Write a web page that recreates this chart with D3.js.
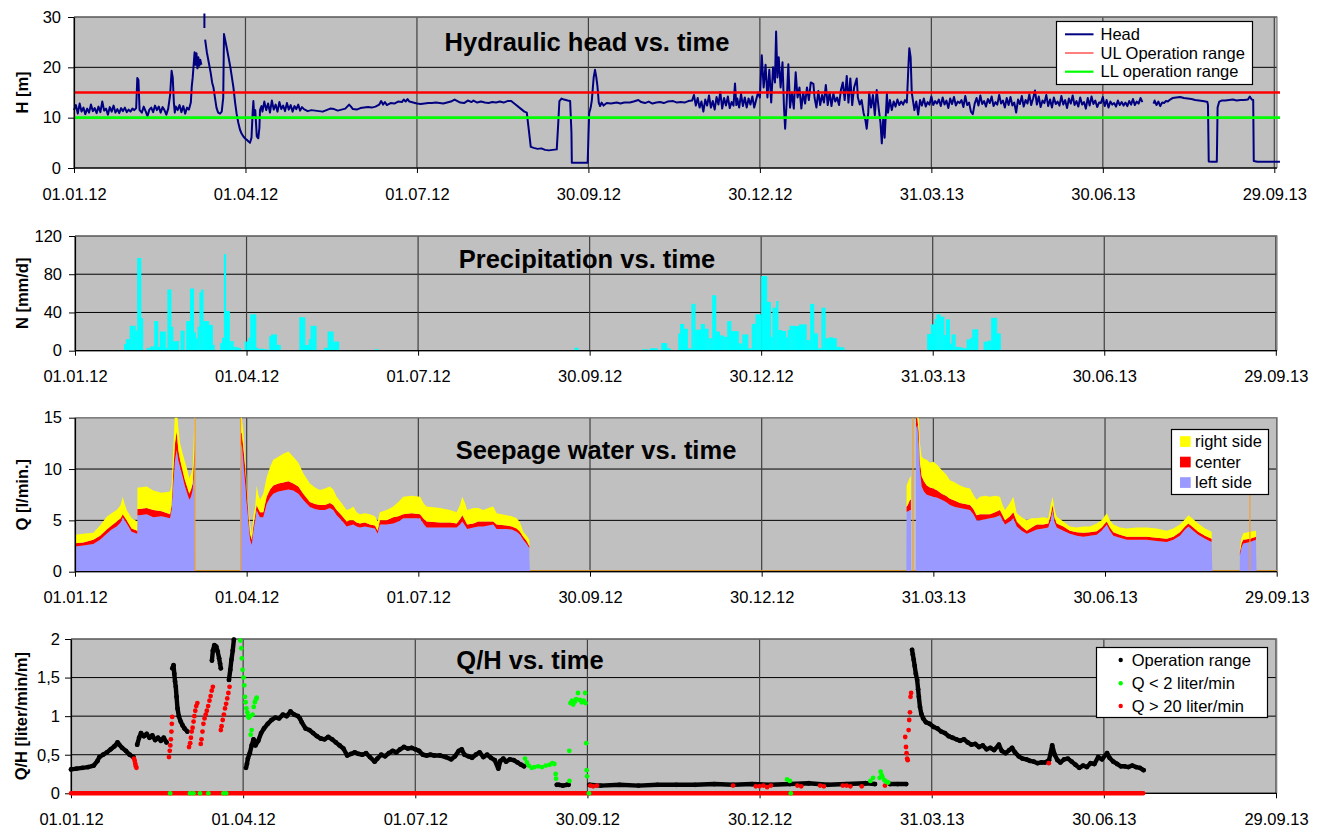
<!DOCTYPE html>
<html>
<head>
<meta charset="utf-8">
<script src="https://cdn.jsdelivr.net/npm/d3@7"></script>
<style>
  body { margin: 0; background: #fff; }
  svg { display: block; }
</style>
</head>
<body>
<svg id="chart" width="1320" height="830"></svg>
<script>
// day offsets count from 01.01.12
const tickDays = [0, 91, 182, 273, 364, 455, 546, 637];

// hydraulic head H [m], [day, value], null = gap
const headPts = [
  [0,11.5],[1,12.5],[2,10.8],[3,12.8],[4,11.2],[5,12],[6,10.7],[7,11.8],[8,11],[9,12.6],[10,11.3],[11,11.9],[12,10.9],
  [13,12.2],[14,11.1],[15,13.2],[16,11.4],[17,11.8],[18,10.6],[19,12.1],[20,11.2],[21,12.4],[22,11],[23,11.7],[24,10.9],
  [25,11.9],[26,11.3],[27,12],[28,11.1],[29,11.6],[30,11.2],[31,11.8],[32,11.5],[33,11.9],[33.6,17.9],[34.2,17.5],[34.8,11.5],
  [36,11],[37,12.2],[38,11.3],[39,10.3],[40,11.6],[41,12],[42,11.1],[43,12.4],[44,11.5],[45,12.2],[46,11],[47,12.1],
  [48,11.5],[49,10.6],[50,11.8],[51,14.5],[51.8,19.3],[52.4,18],[53,13],[53.5,11],[54,12.2],[55,11.5],[56,12.5],[57,11.1],
  [58,12.3],[59,10.8],[60,12],[61,11.6],[62,13],[62.5,16.2],[63,18],[63.5,20.5],[64,23],[64.5,20.5],[65,22.8],[65.5,19.8],
  [66,22],[66.5,20.3],[67,21.5],[67.6,20.5],null,[69.2,27.8],[69.2,30.7],null,
  [69.6,25.5],[70.5,23],[71.5,21],[72.5,19],[73.3,17],[74,16],[75,13.5],[75.6,12],[76.5,11],[77.5,10.8],[78.4,11.2],
  [79.2,14],[79.6,26.6],[80.2,25.5],[81,24],[82,22],[83,20],[84,17.5],[84.6,16],[85.5,13],[86.3,10.8],[87.2,9],[88.1,7.6],
  [89,6.8],[90,6.2],[91,5.8],[91.7,5.6],[92.5,5.3],[93.4,5],[94.2,6],[94.8,11],[95.2,13.3],[95.6,10.5],[96.2,11.5],
  [97,6.3],[97.8,5.9],[98.4,8],[98.7,11.5],[99.5,12.3],[100,11.2],[101,13.2],[102,11.5],[103,12.8],[104,11],[105,13.4],
  [106,11.6],[107,12.6],[108,11.2],[109,13.1],[110,11.7],[111,12.4],[112,11.3],[113,12.9],[114,11.6],[115,12.5],[116,11.2],
  [117,12.3],[118,11.7],[119,12.6],[120,11.4],[121,12.1],[122,11.7],[124,11.3],[126,11.5],[128,11.4],[130,11.3],[132,11.2],
  [134,11.5],[136,11.8],[138,11.7],[140,11.4],[142,11.6],[144,11.8],[146,12.6],[147,12.2],[148,11.7],[150,11.6],[152,11.9],
  [154,12],[156,12.1],[158,12],[160,12.2],[162,12.6],[163,13.3],[164,12.6],[165,13.1],[166,12.5],[168,12.9],[170,12.8],
  [172,13.2],[174,13.1],[175,13.6],[176,13.2],[177,13.7],[178,13.2],[180,13],[182,12.8],[184,12.7],[186,12.8],[188,12.9],
  [190,12.9],[192,13],[194,12.9],[196,12.8],[198,13],[200,13.2],[202,13.6],[203,13.4],[205,13],[207,12.9],[209,13.4],
  [211,13.1],[212,13.4],[214,13],[216,13.2],[218,13],[220,12.9],[222,13.1],[224,13],[226,13.2],[228,13],[230,13.3],
  [232,13.3],[234,12.7],[236.7,11.9],[239,11.2],[240.3,11],[241.2,8.1],[242.4,4.2],[244,4],[246,3.8],[248,3.9],[250,3.6],
  [252,3.5],[254,3.6],[256.2,3.7],[257,9],[257.6,13.3],[258.8,13.8],[260,13.6],[262,13.4],[263.3,13.3],[264,7],[264.2,1.05],
  [268,1.05],[272.6,1.05],[273,6],[273.4,10.9],[274.2,12],[274.8,13.4],[275.8,18],[276.5,19.5],[277.2,18],[277.8,16.2],
  [278.5,13],[279.2,12.3],[280,13],[281,12.4],[282.7,12.9],[285,12.8],[288,13],[290,12.8],[292,13],[295,13],[297,13.2],
  [299.5,13.5],[301,13.1],[303,12.9],[305,13.2],[307,12.8],[309,13],[311,13.1],[313,12.9],[315,13.2],[318,13.3],[320,13],
  [322,13.1],[324,13],[326,13.3],[328,13.4],[329,14.5],[330,12.4],[331,13.9],[332,12],[333,13.2],[334,11.2],[335,13.6],
  [336,12.4],[337,14.4],[338,12],[339,13.3],[340,11.6],[341,14.1],[342,12.6],[343,15.1],[344,11.8],[345,13.9],[346,12.4],
  [347,14.2],[348,11.9],[349,13.1],[350,12.4],[350.8,16.8],[351.5,12.5],[352,13.8],[353,12],[354,14.7],[355,12.3],[356,14],
  [357,12],[358,13.8],[359,12.6],[360,14.2],[361,12],[362,13.5],[363,15],[364,14],[365,22.4],[366,16],[367,20.5],[368,14],
  [369,19.5],[370,13],[371,20],[372,17],[372.6,27.1],[373.3,18],[374,22],[375,16],[376,21],[376.8,12],[377.4,7.8],
  [378.2,13],[379.1,20.6],[380,12],[381,15],[382,11.8],[383,19],[384,14],[385,16],[386,11.8],[387,15],[388,12.8],[389,16],
  [390,13.5],[391,17],[392.4,16.7],[393,14],[394,12],[395,15.3],[396,12.5],[397,14.5],[398,13],[399,16.5],[400,12.5],
  [401,15],[402,12.3],[403,14.8],[404,13.2],[405,14],[406,12.5],[407,15.5],[408,17],[409,13.5],[410.1,18.3],[411,13],
  [412,17.8],[413,12.5],[414,16],[415.4,17.8],[416,14],[417,12.6],[418,13.5],[419,11],[420,9.5],[420.7,7.8],[421.5,11],
  [422,15],[423,12],[424,14.5],[425,10.5],[426,15.5],[427,12],[428,9],[428.7,4.9],[429.5,10],[430.2,6],[431.4,14.7],
  [432,11],[433,13.5],[434,11.5],[435,13.2],[436,12.2],[437,13.6],[438,12.5],[439,13.2],[440,12.6],[441,13.5],[442,13],
  [442.8,20],[443.3,23.8],[444,22],[444.6,15],[445,14],[446,11.5],[447,13.2],[448,10.6],[449,13.5],[450,12.4],[451,13.8],
  [452,12.2],[453,13.1],[454,12.6],[455,14.2],[456,12.5],[457,13.3],[458,12.8],[459,13.6],[460,12.3],[461,14],[462,12.6],
  [463,13.4],[464,11.9],[465,13.8],[466,12.7],[467,14.1],[468,12.4],[469,13.2],[470,12.9],[471,13.5],[472,12.1],[473,14.3],
  [474,12.5],[475,13],[476,11.2],[477,10.7],[478,12.8],[479,13.9],[480,12.4],[481,14.4],[482,12.7],[483,13.3],[484,12.2],
  [485,13.7],[486,12.9],[487,14.2],[488,12.3],[489,13.1],[490,12.6],[491,14.5],[492,12.8],[493,13.4],[494,12],[495,13.9],
  [496,12.5],[497,14.1],[498,12.4],[499,13],[500,11],[501,13.6],[502,12.7],[503,14.3],[504,12.2],[505,13.5],[506,12.8],
  [507,14.6],[508,12.5],[509,13.8],[510,15.4],[511,12.6],[512,14.2],[513,12.1],[514,13.4],[515,12.9],[516,14.5],[517,12.3],
  [518,13.6],[519,12],[520,14],[521,12.7],[522,13.2],[523,12.4],[524,14.3],[525,12.6],[526,13.5],[527,11.9],[528,13.8],
  [529,12.8],[530,14.4],[531,12.5],[532,13.3],[533,12.2],[534,14],[535,12.6],[536,13.1],[537,11.8],[538,13.9],[539,12.4],
  [540,14.2],[541,12.7],[542,13.4],[543,12.1],[544,13],[545,12.9],[546,14.1],[547,12.3],[548,13.5],[549,12],[550,13.2],
  [551,12.6],[552,12.9],[553,12.2],[554,13.4],[555,12.5],[556,13.1],[557,12.4],[558,13],[559,12.3],[560,13.3],[561,12.6],
  [562,13.7],[563,12.5],[564,13.2],[565,12.8],[566,13.9],[567,13.1],null,
  [572.9,12.8],[573.5,13.4],[574.5,12.5],[575.5,13.2],[576.5,12.3],[577.5,13],[578.5,12.9],[579.5,13.3],[580.5,13.2],
  [581.7,13.6],[583,13.9],[585,14],[587,14.1],[589,13.9],[591,13.8],[593,13.7],[595,13.5],[597,13.4],[599,13.3],
  [600.5,13.2],[601.5,13.1],[601.8,12.5],[602.2,1.3],[604,1.25],[606.5,1.25],[606.9,12],[607.8,13.2],[609,13.4],[611,13.4],
  [613,13.5],[615,13.6],[617,13.4],[619,13.5],[621,13.5],[623,13.6],[624,14.2],[625,13.6],[625.8,13.5],[626.1,1.4],
  [628,1.25],[632,1.25],[636,1.25],[640,1.25]
];
const headUL = 15;
const headLL = 10;

// precipitation N [mm/d], [day, value]
const precip = [
  [26,7],[27,12],[28,12],[29,26],[30,26],[31,26],[32,21],[33,97],[34,97],[35,34],
  [38,3],[39,3],[40,4.5],[41,4.5],[42,31],[43,31],[44,4],[45,20],[46,20],[47,20],[48,3],[49,64],[50,64],[51,25],
  [52,9.5],[53,10],[54,10],[56,21],[57,21],[59,31],[60,31],[61,65],[62,65],[63,19],[64,13],[65,25],[66,61],[67,64],
  [68,31],[69,31],[70,31],[71,27],[72,27],[73,6],[77,8],[78,13.6],[79,101],[80,41.5],[81,41.5],[82,10],[83,10],
  [84,4],[85,4],[86,3],[87,3],[90,9.5],[91,9.5],[92,13.6],[93,38],[94,38],[95,38],[96,3],[97,2],[98,2],[99,2],
  [100,1.5],[101,1.5],[103,15],[104,17],[105,17],[106,17],[107,6],[108,6],[119,35],[120,35],[121,35],[122,6],[123,6],
  [124,12],[125,26],[126,26],[127,26],[132,3],[133,3],[134,20],[135,20],[136,20],[137,9.5],[138,9.5],[139,9.5],
  [159,1.5],[160,1.5],[265,3],[266,3],[301,1.5],[302,1.5],[303,1.5],[305,2.5],[306,2.5],[307,2.5],[308,2.5],
  [311,8],[312,8],[313,8],[314,2.4],[315,2.4],[320,18],[321,28],[322,28],[323,23],[324,23],[325,2.4],[326,2.4],
  [327,49],[328,49],[329,22],[330,22],[331,22],[332,28],[333,28],[334,23],[335,23],[336,13],[337,13],[338,58],[339,58],
  [340,20],[341,20],[342,16],[343,16],[344,14.6],[345,14.6],[346,31],[347,31],[348,20.5],[349,20.5],[350,20.5],[351,20.5],
  [352,7.6],[353,7.6],[354,17],[355,17],[356,17],[357,2.4],[358,2.4],[359,28],[360,28],[361,38],[362,38],[363,38],
  [364,78],[365,78],[366,78],[367,51],[368,51],[369,14.6],[370,45],[371,45],[372,52],[373,21.6],[374,21.6],[375,20.5],
  [376,20.5],[377,14],[378,21.6],[379,26],[380,26],[381,26],[382,25.7],[383,25.7],[384,27.5],[385,27.5],[386,27.5],
  [387,27.5],[388,11],[389,11],[390,49],[391,49],[392,18],[393,18],[394,2.4],[395,2.4],[396,45],[397,45],[398,13],
  [399,13],[400,14],[401,14],[402,13],[403,13],[404,4],[405,4],[406,3.5],[407,3.5],
  [452,17.4],[453,17.4],[454,27.5],[455,27.5],[456,33],[457,38],[458,38],[459,35.5],[460,35.5],[461,16.3],[462,32.7],
  [463,32.7],[464,7.6],[465,17],[466,17],[467,4],[468,4],[469,3.5],[470,3.5],[471,2.4],[472,2.4],[473,11.8],[474,11.8],
  [475,13.5],[476,22.3],[477,22.3],[478,22.3],[482,9.4],[483,9.4],[484,10.4],[485,10.4],[486,34.4],[487,34.4],[488,34.4],
  [489,18],[490,18]
];

// seepage water Q [l/min.]: days, then left side, center and right side layers
const seepDays = [
  0,4.4,9.7,13.3,16.8,19.4,22.1,24.2,25.3,26,27.4,30,33,33.1,34.1,38,41.5,45.9,50.4,51.2,52.1,53,53.9,54.8,55.7,57.1,58.3,
  59.7,60.6,61.5,62.4,63.3,63.5,63.6,
  87.8,87.9,88.4,89.3,90.2,91.4,92.1,92.8,93.7,94.6,95.5,96.3,97.2,98.1,99.8,101.6,103.4,105.1,107.8,110.4,113.1,115.7,
  118.4,121,124.5,127.2,129.8,132.5,135.1,136.9,138.7,141.3,144,145.7,147.5,149.3,151,153.7,156.3,159,160.4,161.6,165.2,
  168.7,171.4,174,178.4,182.9,185,186.4,193.5,198.8,202.3,204.1,205.3,206.7,207.9,211.2,213.8,216.4,219.1,221.7,223.5,
  226.2,228.8,231.5,234.1,235.9,237.6,239.4,240.8,241.1,
  440.7,440.8,441.7,442.6,443.1,443.2,
  445.7,445.8,446.5,447.2,447.9,448.8,450,451.5,453.2,455,457.1,459.4,461.7,463.8,466.5,469.1,471.8,474.4,476.2,477.9,
  479.7,482.4,485,487.7,490.3,491.7,493,495.6,497.4,499.2,501.8,504.5,507.1,509.8,513.3,515.9,517.2,518.2,519.3,520.4,
  523.9,527.4,531,534.5,538,541.6,544.2,546.9,548.6,550.4,553.9,557.5,562.8,568.1,573.4,578.7,582.2,585.7,588.4,590.2,
  592.8,595.4,599,602.5,602.9,
  617.4,617.5,618.4,619.3,622.9,626,626.3
];
const seepLeft = [
  2.45,2.55,2.7,3.1,3.7,4.1,4.4,4.8,5.3,5.1,4.7,3.9,3.7,5.5,5.5,5.6,5.3,5.4,5.2,6,8.5,10.8,11.85,10.8,10.2,9.2,8.3,
  7.5,7,7.3,7.95,10.2,11,0,
  0,12,12.5,10.5,8.6,6,4.5,3.1,2.6,4,5,6,5.6,5.3,5.3,6.6,7.2,7.6,7.8,7.9,8,7.9,
  7.6,6.98,6.3,6.1,6,6,6.2,6,5.5,5,4.4,4.5,4.6,4.4,4.3,4.4,4.3,4.2,3.7,4.6,4.6,
  4.7,4.9,5.2,5.2,5.2,4.6,4.3,4.3,4.3,4.3,4.6,4.9,4.5,4.15,4.3,4.4,4.4,4.5,4.6,4.15,
  4.15,4.15,4.1,3.9,3.6,3.1,2.7,2.3,0,
  0,5.85,5.9,6,6,0,
  0,14,14.3,12.5,9.8,8.3,7.8,7.5,7.4,7.3,7.2,7,6.8,6.5,6.3,6.2,6.1,6,5.6,5,
  5,5.1,5.2,5.3,5.5,5,4.6,4.9,5.2,4.4,4,3.7,3.9,4.1,4.2,4.3,5,6,4.8,4.3,
  4,3.7,3.5,3.4,3.5,3.6,4,4.6,4,3.5,3.3,3.1,3.1,3.1,3,2.9,3.1,3.5,4.1,4.4,
  4,3.6,3.2,2.9,0,
  0,1.6,2.4,2.75,2.9,3.1,0
];
const seepCenter = [
  0.33,0.3,0.4,0.4,0.4,0.4,0.5,0.4,0.3,0.3,0.3,0.3,0.3,0.6,0.6,0.6,0.7,0.5,0.4,0.5,1.3,1.7,1.8,1,0.7,0.6,0.6,
  0.6,0.6,0.7,0.65,1.6,2,0,
  0,1.5,1,1.5,1.6,1,0.7,0.6,0.5,0.5,0.5,0.5,0.5,0.5,0.5,0.7,0.8,0.8,0.8,0.8,0.8,0.7,
  0.7,0.62,0.5,0.5,0.5,0.5,0.5,0.5,0.5,0.5,0.5,0.5,0.4,0.4,0.4,0.4,0.3,0.3,0.3,0.4,0.4,
  0.6,0.5,0.4,0.5,0.4,0.5,0.6,0.5,0.5,0.4,0.5,0.6,0.5,0.45,0.4,0.5,0.5,0.4,0.3,0.45,
  0.4,0.35,0.3,0.3,0.3,0.3,0.3,0.2,0,
  0,0.45,0.7,1,1,0,
  0,1,0.7,1.2,0.8,1,1,0.9,0.8,0.8,0.7,0.6,0.6,0.6,0.6,0.5,0.5,0.5,0.5,0.5,
  0.6,0.5,0.4,0.5,0.5,0.5,0.4,0.5,0.6,0.5,0.4,0.3,0.4,0.5,0.4,0.4,0.5,0.5,0.4,0.4,
  0.4,0.3,0.35,0.4,0.35,0.35,0.3,0.3,0.3,0.35,0.3,0.3,0.3,0.3,0.3,0.3,0.3,0.35,0.3,0.3,
  0.3,0.3,0.3,0.3,0,
  0,0.35,0.4,0.35,0.3,0.3,0
];
const seepRight = [
  0.82,0.85,0.7,1,1.25,1.2,1.1,1.3,1.7,1.4,1,1,0.9,2.1,2.1,2.1,1.9,1.8,2.2,1.9,2.2,3,2.35,2.2,1.6,1.7,1.8,
  1.7,1.5,1.5,1.6,3,3,0,
  0,2.5,1.6,1.5,0.7,0.6,0.6,1,0.6,1,0.8,1.9,1.4,1.2,1.8,1.9,2.2,2.5,2.6,2.8,2.9,2.6,
  2.3,2,1.8,1.6,1.45,1.6,1.6,1.5,1.3,1.2,1.1,1.1,1.35,1,0.9,0.9,1,0.9,0.9,0.8,1,
  1.05,1.4,1.7,1.7,1.7,1.5,1.45,1.4,1.2,1.1,1.4,1.8,1.7,1.4,1.5,1.3,1.1,1.3,1.45,1.1,
  1.05,1,1,1,0.9,0.5,0.5,0.6,0,
  0,2.1,2.2,2.2,2.3,0,
  0,1,1,1.4,1.9,1.9,2.2,2.5,2.4,2.6,2.5,2.3,2.1,1.8,1.8,1.7,1.6,1.6,1.4,1.5,
  1.7,1.8,1.7,1.6,1.3,1,1,1.3,1.5,0.8,0.9,1,0.9,0.6,0.7,0.5,1,0.8,0.8,0.65,
  0.5,0.4,0.45,0.6,0.55,0.75,0.7,0.8,0.7,0.75,0.7,0.8,0.9,0.9,0.9,0.8,0.8,0.75,0.7,0.8,
  0.8,0.8,0.7,0.7,0,
  0,0.5,0.5,0.65,0.7,0.6,0
];
// thin orange marks seen in the seepage panel, [day, Q]
const seepSpikes = [[63.6,15],[87.8,15],[444.2,15],[622.8,13.8]];

// Q/H [liter/min/m], [day, value], null = gap
const qhOperation = [
  [0,0.31],[3,0.32],[6,0.33],[9,0.34],[12,0.36],[14,0.42],[15,0.47],[17,0.5],[19,0.53],[21,0.57],[23,0.61],[24.6,0.66],
  [25.5,0.63],[27,0.59],[29,0.55],[31,0.5],[33,0.47],null,
  [35,0.63],[36,0.72],[37,0.78],[38.5,0.74],[40,0.77],[41.5,0.72],[43,0.75],[44.5,0.69],[46,0.72],[47.5,0.68],[49,0.72],
  [50.5,0.66],null,
  [53.6,1.62],[54.2,1.66],[54.6,1.55],[55,1.45],[55.4,1.38],[55.8,1.25],[56.3,1.1],[57,1],[58,0.93],[59,0.88],[60,0.84],
  [61.5,0.8],null,
  [74.5,1.72],[75,1.85],[75.8,1.92],[76.8,1.9],[77.5,1.84],[78.3,1.75],[78.8,1.68],[79.2,1.62],null,
  [83.5,1.47],[84.2,1.6],[84.8,1.73],[85.5,1.85],[86.1,1.99],null,
  [92.5,0.33],[93,0.38],[93.5,0.45],[94.5,0.52],[95.5,0.62],[96.5,0.7],[97.5,0.62],[99,0.68],[100.5,0.78],[102,0.84],
  [104,0.9],[106,0.95],[108,0.98],[110,0.97],[112,1.02],[114,1],[116,1.06],[118,1.02],[120,1],[121,0.97],[122,0.92],
  [124,0.84],[126,0.82],[128,0.78],[130,0.74],[132,0.71],[134,0.7],[136,0.73],[138,0.7],[140,0.66],[142,0.62],[144,0.58],
  [146,0.49],[148,0.51],[150,0.53],[152,0.51],[154,0.5],[156,0.52],[158,0.47],[160.5,0.41],[162,0.45],[164,0.5],
  [166,0.48],[168,0.52],[170,0.55],[172,0.53],[174,0.57],[176,0.6],[178,0.58],[180,0.59],[182,0.57],[184,0.55],[186,0.5],
  [188,0.49],[190,0.5],[192,0.49],[195,0.49],[198,0.47],[201,0.44],[203,0.48],[205,0.55],[206.5,0.57],[208,0.5],
  [210,0.48],[212,0.46],[214,0.5],[216,0.53],[218,0.47],[220,0.5],[222,0.46],[224,0.43],[225.9,0.32],[227,0.42],
  [228.5,0.45],[230,0.41],[232,0.44],[234,0.43],[236,0.4],[238,0.37],[239.5,0.35],null,
  [256.8,0.11],[258,0.11],[260,0.1],[262,0.11],[263,0.11],null,
  [274,0.11],[280,0.1],[290,0.11],[300,0.1],[310,0.11],[320,0.11],[330,0.11],[340,0.12],[350,0.11],[360,0.12],
  [370,0.11],[380,0.12],[390,0.13],[400,0.11],[410,0.12],[420,0.13],[425,0.12],null,
  [433,0.12],[437,0.12],[441.5,0.12],null,
  [444.6,1.86],[445,1.8],[445.5,1.73],[446,1.65],[446.6,1.55],[447.3,1.47],[447.8,1.35],[448.2,1.25],[448.8,1.12],
  [449.5,1.03],[450.5,0.97],[452,0.92],[454,0.9],[456,0.86],[458,0.84],[460,0.8],[462,0.78],[464,0.74],[466,0.72],
  [468,0.7],[470,0.68],[472,0.7],[474,0.66],[476,0.63],[478,0.64],[480,0.6],[482,0.62],[484,0.57],[486,0.59],[488,0.56],
  [490.5,0.63],[492,0.55],[494,0.52],[496,0.56],[497.5,0.59],[499,0.53],[501,0.48],[503,0.45],[505,0.44],[507,0.42],
  [509,0.41],[511,0.39],[513,0.4],[515,0.4],[517,0.43],[518.7,0.62],[520,0.5],[521.5,0.43],[523,0.4],[525,0.44],
  [527,0.45],[529,0.41],[531,0.37],[533,0.33],[535,0.36],[537,0.34],[539,0.39],[541,0.38],[543,0.47],[545,0.44],
  [547.7,0.52],[549,0.46],[551,0.41],[553,0.38],[555,0.35],[557,0.35],[559,0.34],[561,0.36],[563,0.34],[565,0.33],[567,0.3]
];
const qhLow = [
  [52.4,0],[62.9,0],[64.7,0],[68.2,0],[72.6,0],[80.6,0],[82,0],
  [89.5,1.98],[90,1.88],[90.3,1.75],[90.7,1.6],[91.2,1.5],[91.6,1.4],[92,1.25],[92.3,1.18],[92.7,1.1],[93.2,1.05],
  [93.6,1],[94,0.98],[94.5,1],[95,0.76],[95.5,0.82],[96,1.02],[96.6,1.12],[97.2,1.18],[97.8,1.22],[98.2,1.24],
  [240,0.45],[241,0.4],[242,0.36],[243.5,0.33],[245,0.34],[247,0.35],[249,0.34],[251,0.36],[253,0.37],[254.5,0.39],
  [255.5,0.38],[256.2,0.25],[256.4,0.19],[263.4,0.55],[263.5,0.16],[264,1.17],[264.8,1.2],[265.5,1.15],[266.5,1.19],
  [267,1.22],[268,1.3],[269,1.21],[270,1.18],[271,1.2],[271.8,1.3],[272,1.17],[272.4,0.65],[272.6,0.3],[272.8,0.22],
  [273.8,0],[378.5,0.18],[380,0.16],[380.5,0],[422.6,0.16],[424,0.2],
  [427.5,0.2],[428,0.28],[428.5,0.24],[429,0.21],[430,0.17],[431,0.15],[432,0.14]
];
const qhHigh = [
  [33.3,0.45],[33.7,0.42],[34,0.38],[34.3,0.35],[34.6,0.33],
  [51.8,0.47],[52.2,0.55],[52.5,0.62],[52.8,0.7],[53.1,0.8],[53.3,0.9],[53.5,0.99],
  [62.4,0.6],[63,0.65],[63.4,0.72],[63.8,0.8],[64.3,0.85],[64.8,0.93],[65.2,1],[65.7,1.07],[66.2,1.13],[66.8,1.17],
  [68.6,0.64],[69,0.7],[69.5,0.8],[70,0.9],[70.6,0.97],[71.2,1.02],[71.8,1.07],[72.5,1.13],[73.2,1.2],[73.8,1.26],
  [74.4,1.33],[75,1.38],
  [79.2,0.82],[79.6,0.87],[80.2,0.95],[80.8,1.02],[81.4,1.1],[82,1.16],[82.6,1.23],[83.2,1.3],[83.8,1.38],
  [274.5,0.1],[276,0.09],[278,0.1],
  [350,0.1],[362,0.09],[364,0.09],[366,0.1],[368,0.08],[370,0.1],[384,0.1],[386,0.09],[396,0.1],[398,0.09],
  [408,0.1],[410,0.1],[412,0.09],[418,0.09],[430.3,0.1],
  [441,0.73],[441.4,0.6],[441.7,0.52],[442,0.45],[442.3,0.43],[442.8,0.82],[443.1,0.95],[443.5,1.05],[443.8,1.25],[444.1,1.3],
  [516.9,0.39]
];
// Q > 20 points lying on zero, first and last day of the run
const qhHighZero = [[0,0],[566.8,0]];

const FONT = 'Arial, "Liberation Sans", sans-serif';
const START = Date.UTC(2012, 0, 1);
const day = d => new Date(START + d * 864e5);
const fmtDate = d3.utcFormat('%d.%m.%y');

const svg = d3.select('#chart');

function makePanel(cfg) {
    const x = d3.scaleUtc().domain([day(0), day(637)]).range([cfg.x0, cfg.x1]);
    const y = d3.scaleLinear().domain(cfg.yDomain).range([cfg.bottom, cfg.top]);
    const g = svg.append('g');

    g.append('rect')
        .attr('x', cfg.x0).attr('y', cfg.top)
        .attr('width', cfg.right - cfg.x0).attr('height', cfg.bottom - cfg.top)
        .attr('fill', '#c0c0c0');

    g.append('g').selectAll('line').data(cfg.yTicks).join('line')
        .attr('x1', cfg.x0).attr('x2', cfg.right)
        .attr('y1', d => y(d)).attr('y2', d => y(d))
        .attr('stroke', '#000').attr('stroke-width', 1);

    g.append('g').selectAll('line').data(tickDays).join('line')
        .attr('x1', d => x(day(d))).attr('x2', d => x(day(d)))
        .attr('y1', cfg.top).attr('y2', cfg.bottom)
        .attr('stroke', '#404040').attr('stroke-width', 1.2);

    g.append('path')
        .attr('d', `M${cfg.x0},${cfg.top}H${cfg.right}V${cfg.bottom}`)
        .attr('fill', 'none').attr('stroke', '#808080').attr('stroke-width', 1.2);

    svg.append('clipPath').attr('id', 'clip-' + cfg.id)
        .append('rect')
        .attr('x', cfg.x0).attr('y', cfg.top)
        .attr('width', cfg.right - cfg.x0).attr('height', cfg.bottom - cfg.top);

    const plot = g.append('g');
    const clipped = plot.append('g').attr('clip-path', `url(#clip-${cfg.id})`);

    return { cfg, x, y, g, plot, clipped };
}

function drawAxes(p) {
    const cfg = p.cfg;
    const xAxis = p.g.append('g')
        .attr('transform', `translate(0,${cfg.bottom})`)
        .call(d3.axisBottom(p.x)
            .tickValues(tickDays.map(day))
            .tickFormat(fmtDate)
            .tickSize(5)
            .tickSizeOuter(0));
    xAxis.select('.domain').remove();
    xAxis.attr('font-family', FONT).attr('font-size', 16.5);
    xAxis.selectAll('text').attr('y', 20).attr('fill', '#000');
    xAxis.selectAll('line').attr('stroke', '#000');

    p.g.append('line')
        .attr('x1', cfg.x0).attr('x2', cfg.right)
        .attr('y1', cfg.bottom).attr('y2', cfg.bottom)
        .attr('stroke', '#000').attr('stroke-width', 1.2);

    const yAxis = p.g.append('g')
        .attr('transform', `translate(${cfg.x0},0)`)
        .call(d3.axisLeft(p.y)
            .tickValues(cfg.yTicks)
            .tickFormat(cfg.yFormat || (d => d))
            .tickSize(6)
            .tickPadding(cfg.tickPad || 7)
            .tickSizeOuter(0));
    yAxis.attr('font-family', FONT).attr('font-size', 16.5);
    yAxis.select('.domain').attr('stroke', '#000').attr('stroke-width', 1.2);
    yAxis.selectAll('text').attr('fill', '#000');

    svg.append('text')
        .attr('transform', `translate(${cfg.labelX},${(cfg.top + cfg.bottom) / 2}) rotate(-90)`)
        .attr('text-anchor', 'middle')
        .attr('dy', '0.35em')
        .attr('font-family', FONT).attr('font-size', 16.5).attr('font-weight', 'bold')
        .text(cfg.yLabel);

    svg.append('text')
        .attr('x', cfg.titleX).attr('y', cfg.titleY)
        .attr('text-anchor', 'middle')
        .attr('font-family', FONT).attr('font-size', 25.5).attr('font-weight', 'bold')
        .text(cfg.title);
}

function legendBox(x, y, w, h) {
    const g = svg.append('g');
    g.append('rect').attr('x', x).attr('y', y).attr('width', w).attr('height', h)
        .attr('fill', '#fff').attr('stroke', '#000').attr('stroke-width', 1.2);
    return g;
}

function legendText(g, x, y, label) {
    g.append('text').attr('x', x).attr('y', y).attr('dy', '0.35em')
        .attr('font-family', FONT).attr('font-size', 16.5).text(label);
}

// ---------- panel 1: hydraulic head ----------
const p1 = makePanel({
    id: 'head', x0: 74, x1: 1274.3, right: 1277, top: 17, bottom: 168,
    yDomain: [0, 30], yTicks: [0, 10, 20, 30], yLabel: 'H [m]', labelX: 22,
    title: 'Hydraulic head vs. time', titleX: 587, titleY: 51
});
const headLine = d3.line()
    .defined(d => d !== null)
    .x(d => p1.x(day(d[0])))
    .y(d => p1.y(d[1]));
p1.plot.append('path')
    .datum(headPts)
    .attr('d', headLine)
    .attr('fill', 'none').attr('stroke', '#000080').attr('stroke-width', 2)
    .attr('stroke-linejoin', 'round');
[[headUL, '#ff0000'], [headLL, '#00ff00']].forEach(([v, c]) => {
    p1.plot.append('line')
        .attr('x1', p1.cfg.x0).attr('x2', 1280)
        .attr('y1', p1.y(v)).attr('y2', p1.y(v))
        .attr('stroke', c).attr('stroke-width', 2.6);
});
drawAxes(p1);

const lg1 = legendBox(1056.5, 21.5, 196, 63);
[['Head', '#000080', 2, 34.3], ['UL Operation range', '#ff0000', 1, 53], ['LL operation range', '#00ff00', 2.2, 71.7]]
    .forEach(([label, c, w, yy]) => {
        lg1.append('line').attr('x1', 1065).attr('x2', 1093.5).attr('y1', yy).attr('y2', yy)
            .attr('stroke', c).attr('stroke-width', w);
        legendText(lg1, 1100.5, yy, label);
    });

// ---------- panel 2: precipitation ----------
const p2 = makePanel({
    id: 'precip', x0: 75, x1: 1275.8, right: 1277, top: 236, bottom: 350.7,
    yDomain: [0, 120], yTicks: [0, 40, 80, 120], yLabel: 'N [mm/d]', labelX: 22,
    title: 'Precipitation vs. time', titleX: 587, titleY: 268
});
p2.clipped.selectAll('rect').data(precip).join('rect')
    .attr('x', d => p2.x(day(d[0])))
    .attr('width', d => p2.x(day(d[0] + 1)) - p2.x(day(d[0])) + 0.3)
    .attr('y', d => p2.y(d[1]))
    .attr('height', d => p2.y(0) - p2.y(d[1]))
    .attr('fill', '#00ffff');
drawAxes(p2);

// ---------- panel 3: seepage water ----------
const p3 = makePanel({
    id: 'seep', x0: 75, x1: 1276.7, right: 1277, top: 417.7, bottom: 571.7,
    yDomain: [0, 15], yTicks: [0, 5, 10, 15], yLabel: 'Q [l/min.]', labelX: 22,
    title: 'Seepage water vs. time', titleX: 596, titleY: 459
});
const seepRows = seepDays.map((d, i) => ({
    day: d, left: seepLeft[i], center: seepCenter[i], right: seepRight[i]
}));
const seepKeys = ['left', 'center', 'right'];
const seepColors = { left: '#9999ff', center: '#ff0000', right: '#ffff00' };
const stacked = d3.stack().keys(seepKeys)(seepRows);
const seepArea = d3.area()
    .x(d => p3.x(day(d.data.day)))
    .y0(d => p3.y(d[0]))
    .y1(d => p3.y(d[1]));
p3.clipped.append('line')
    .attr('x1', p3.cfg.x0).attr('x2', p3.cfg.right)
    .attr('y1', p3.y(0) - 1).attr('y2', p3.y(0) - 1)
    .attr('stroke', '#d09030').attr('stroke-width', 1.5);
p3.clipped.selectAll('path.layer').data(stacked).join('path')
    .attr('class', 'layer')
    .attr('d', seepArea)
    .attr('fill', d => seepColors[d.key]);
p3.clipped.selectAll('line.spike').data(seepSpikes).join('line')
    .attr('class', 'spike')
    .attr('x1', d => p3.x(day(d[0]))).attr('x2', d => p3.x(day(d[0])))
    .attr('y1', p3.y(0)).attr('y2', d => p3.y(d[1]))
    .attr('stroke', '#f0a030').attr('stroke-width', 1.2);
drawAxes(p3);

const lg3 = legendBox(1171.5, 429.5, 97, 65);
[['right side', 'right', 441.5], ['center', 'center', 462], ['left side', 'left', 482.5]]
    .forEach(([label, key, yy]) => {
        lg3.append('rect').attr('x', 1180).attr('y', yy - 5.3).attr('width', 10.7).attr('height', 10.7)
            .attr('fill', seepColors[key]);
        legendText(lg3, 1195, yy, label);
    });

// ---------- panel 4: Q/H ----------
const p4 = makePanel({
    id: 'qh', x0: 71, x1: 1276, right: 1276.7, top: 639, bottom: 793.3,
    yDomain: [0, 2], yTicks: [0, 0.5, 1, 1.5, 2], yFormat: d => String(d).replace('.', ','),
    yLabel: 'Q/H [liter/min/m]', labelX: 21, tickPad: 5,
    title: 'Q/H vs. time', titleX: 530, titleY: 669
});
const qhLine = d3.line()
    .defined(d => d !== null)
    .x(d => p4.x(day(d[0])))
    .y(d => p4.y(d[1]));
p4.plot.append('path')
    .datum(qhOperation)
    .attr('d', qhLine)
    .attr('fill', 'none').attr('stroke', '#000').attr('stroke-width', 4.4)
    .attr('stroke-linejoin', 'round').attr('stroke-linecap', 'round');
p4.plot.append('g').selectAll('circle').data(qhOperation.filter(d => d !== null)).join('circle')
    .attr('cx', d => p4.x(day(d[0]))).attr('cy', d => p4.y(d[1])).attr('r', 2.4)
    .attr('fill', '#000');
drawAxes(p4);
p4.g.append('path')
    .datum(qhHighZero)
    .attr('d', qhLine)
    .attr('stroke', '#ff0000').attr('stroke-width', 4.6).attr('stroke-linecap', 'round');
p4.g.append('g').selectAll('circle').data(qhHigh).join('circle')
    .attr('cx', d => p4.x(day(d[0]))).attr('cy', d => p4.y(d[1])).attr('r', 2.4)
    .attr('fill', '#ff0000');
p4.g.append('g').selectAll('circle').data(qhLow).join('circle')
    .attr('cx', d => p4.x(day(d[0]))).attr('cy', d => p4.y(d[1])).attr('r', 2.4)
    .attr('fill', '#00ff00');

const lg4 = legendBox(1096.5, 647.5, 171, 70);
[['Operation range', '#000', 660], ['Q < 2 liter/min', '#00ff00', 683.3], ['Q > 20 liter/min', '#ff0000', 706]]
    .forEach(([label, c, yy]) => {
        lg4.append('circle').attr('cx', 1120.7).attr('cy', yy).attr('r', 2.2).attr('fill', c);
        legendText(lg4, 1131.7, yy, label);
    });
</script>
</body>
</html>
